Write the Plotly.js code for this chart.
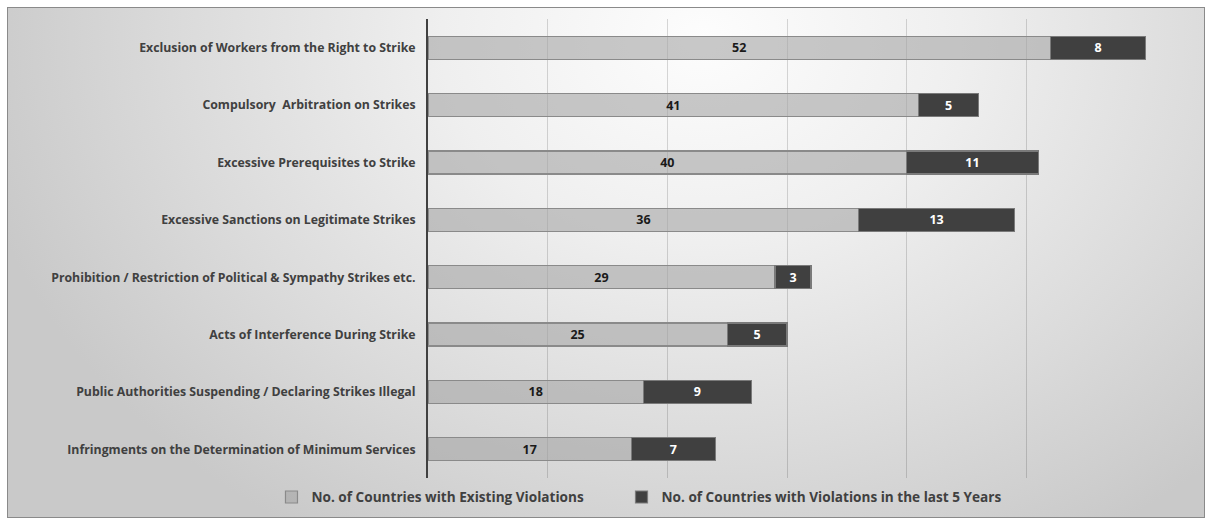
<!DOCTYPE html>
<html>
<head>
<meta charset="utf-8">
<script src="https://cdn.plot.ly/plotly-3.0.1.min.js"></script>
<style>
  html, body { margin: 0; padding: 0; width: 1212px; height: 525px; overflow: hidden; background: #ffffff; }
  #frame {
    position: absolute; left: 7px; top: 7px; width: 1196px; height: 509px;
    border: 1px solid #8a8a8a;
    background: radial-gradient(ellipse 62% 115% at 58% 6%, #fdfdfd 0%, #efefef 35%, #dbdbdb 70%, #c9c9c9 100%);
  }
  #chart { position: absolute; left: 0; top: 0; width: 1212px; height: 525px; }
</style>
</head>
<body>
<div id="frame"></div>
<div id="chart"></div>
<script>
const categories = [
  "Exclusion of Workers from the Right to Strike",
  "Compulsory  Arbitration on Strikes",
  "Excessive Prerequisites to Strike",
  "Excessive Sanctions on Legitimate Strikes",
  "Prohibition / Restriction of Political & Sympathy Strikes etc.",
  "Acts of Interference During Strike",
  "Public Authorities Suspending / Declaring Strikes Illegal",
  "Infringments on the Determination of Minimum Services"
];
const existingViolations = [52, 41, 40, 36, 29, 25, 18, 17];
const recentViolations = [8, 5, 11, 13, 3, 5, 9, 7];
const seriesNames = [
  "No. of Countries with Existing Violations",
  "No. of Countries with Violations in the last 5 Years"
];
const xTicks = [0, 10, 20, 30, 40, 50, 60];

const FONT = "'Open Sans', 'DejaVu Sans', sans-serif";

const traces = [
  {
    type: "bar", orientation: "h",
    name: seriesNames[0], legend: "legend",
    y: categories, x: existingViolations,
    text: existingViolations.map(String),
    textposition: "inside", insidetextanchor: "middle", textangle: 0,
    textfont: { family: FONT, size: 12.5, color: "#1a1a1a", weight: "bold" },
    marker: { color: "rgba(165,165,165,0.6)", line: { color: "#8a8a8a", width: 1.2 } },
    hoverinfo: "x+y"
  },
  {
    type: "bar", orientation: "h",
    name: seriesNames[1], legend: "legend2",
    y: categories, x: recentViolations,
    text: recentViolations.map(String),
    textposition: "inside", insidetextanchor: "middle", textangle: 0,
    textfont: { family: FONT, size: 12.5, color: "#ffffff", weight: "bold" },
    marker: { color: "#404040", line: { color: "#7a7a7a", width: 1.2 } },
    hoverinfo: "x+y"
  }
];

const legendFont = { family: FONT, size: 13.6, color: "#404040", weight: "bold" };

const layout = {
  width: 1212, height: 525,
  margin: { l: 428, r: 66, t: 19, b: 39, pad: 0 },
  paper_bgcolor: "rgba(0,0,0,0)",
  plot_bgcolor: "rgba(0,0,0,0)",
  barmode: "stack",
  bargap: 0.6,
  uniformtext: { mode: "show", minsize: 12.5 },
  font: { family: FONT, size: 12, color: "#404040" },
  showlegend: true,
  legend: {
    orientation: "h", x: -0.218, xanchor: "left", y: -0.008, yanchor: "top",
    font: legendFont, bgcolor: "rgba(0,0,0,0)", itemwidth: 30
  },
  legend2: {
    orientation: "h", x: 0.2695, xanchor: "left", y: -0.008, yanchor: "top",
    font: legendFont, bgcolor: "rgba(0,0,0,0)", itemwidth: 30
  },
  xaxis: {
    range: [0, 60], tickvals: xTicks, showticklabels: false,
    showgrid: true, gridcolor: "rgba(0,0,0,0.15)", gridwidth: 1,
    zeroline: false, showline: false, ticks: "", fixedrange: true
  },
  yaxis: {
    type: "category", autorange: "reversed",
    showline: true, linecolor: "#404040", linewidth: 2,
    showgrid: false, zeroline: false, ticks: "",
    ticklabelstandoff: 8,
    tickfont: { family: FONT, size: 12.3, color: "#404040", weight: "bold" },
    fixedrange: true
  }
};

Plotly.newPlot("chart", traces, layout, { displayModeBar: false, staticPlot: true });
</script>
</body>
</html>
